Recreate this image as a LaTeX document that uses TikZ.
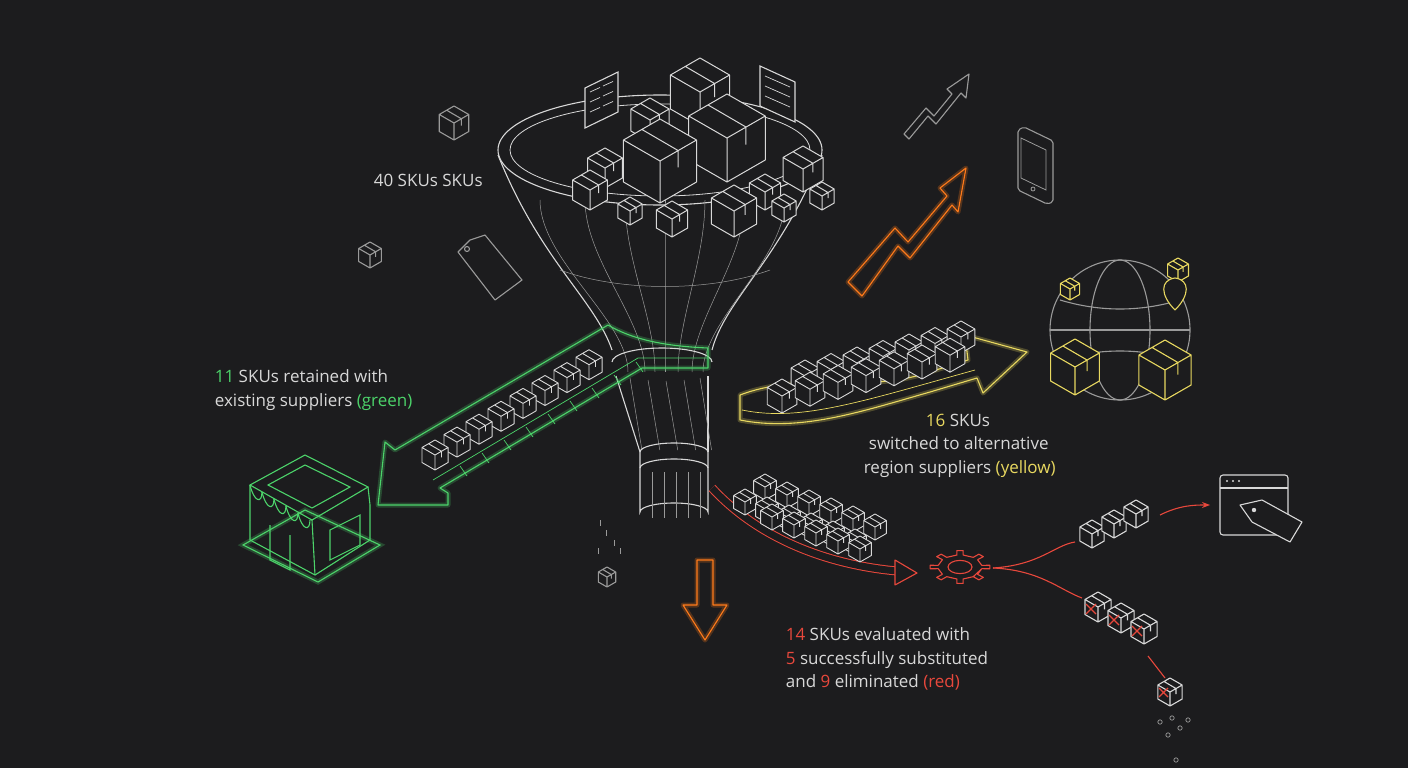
\documentclass[tikz,border=0pt]{standalone}
\usepackage{fontspec}
\setmainfont{Open Sans}
\usetikzlibrary{calc,arrows.meta}
\definecolor{bg}{HTML}{1C1C1E}
\definecolor{ln}{HTML}{D8D8D8}
\definecolor{dim}{HTML}{9A9A9A}
\definecolor{gr}{HTML}{4CD36A}
\definecolor{yl}{HTML}{E8D860}
\definecolor{rd}{HTML}{E8483C}
\definecolor{og}{HTML}{FF7A1A}
\tikzset{
 pics/cube/.style={code={
  \fill[bg] (0,0)--(-0.87*#1,-0.5*#1)--(-0.87*#1,-1.5*#1)--(0,-2*#1)--(0.87*#1,-1.5*#1)--(0.87*#1,-0.5*#1)--cycle;
  \draw[pic actions,line join=round] (0,0)--(-0.87*#1,-0.5*#1)--(-0.87*#1,-1.5*#1)--(0,-2*#1)--(0.87*#1,-1.5*#1)--(0.87*#1,-0.5*#1)--cycle
   (0,0)--(0,-#1) (-0.87*#1,-1.5*#1)--(0,-#1)--(0.87*#1,-1.5*#1)
   (-0.43*#1,-1.75*#1)--(0.43*#1,-1.25*#1)--(0.43*#1,-0.85*#1);
 }},
 lab/.style={font=\fontsize{17}{23.5}\selectfont,text=ln,align=left},
 glow/.style={line width=5pt,opacity=0.25},
}
\begin{document}
\begin{tikzpicture}[x=1pt,y=-1pt,line width=1.1pt]
\fill[bg] (0,0) rectangle (1408,768);
\useasboundingbox (0,0) rectangle (1408,768);

% ---------- funnel ----------
\coordinate (ftop) at (660,150);
\draw[ln] (ftop) ellipse [x radius=162,y radius=55];
\draw[ln,line width=0.8pt] (ftop) ellipse [x radius=150,y radius=46];
\draw[ln] (498,155) .. controls (540,260) and (595,300) .. (612,350);
\draw[ln] (822,155) .. controls (780,260) and (725,300) .. (712,350);
\foreach \a/\b in {540/628,585/645,625/655,665/665,705/678,745/692,785/703}{
 \draw[dim,line width=0.5pt] (\a,200) .. controls (\a,260) and (\b,320) .. (\b,372);}
\draw[dim,line width=0.5pt] (560,270) .. controls (620,292) and (710,292) .. (770,270);
\draw[ln] (612,362) arc[start angle=180,end angle=360,x radius=50,y radius=14];
\draw[ln] (616,376) -- (640,452);
\draw[ln] (708,376) -- (708,452);
\foreach \x/\y in {630/378,648/380,666/381,684/380,700/378}{
 \draw[dim,line width=0.5pt] (\x,\y) -- ({\x+(\x-612)*0.12+12*(1-(\x-612)/96)},450);}
\draw[ln] (640,452) arc[start angle=180,end angle=360,x radius=34,y radius=9];
\draw[ln] (640,452) -- (640,512) arc[start angle=180,end angle=360,x radius=34,y radius=9] -- (708,452);
\draw[ln] (640,468) arc[start angle=180,end angle=360,x radius=34,y radius=9];
\foreach \x in {652,664,676,688,700}{\draw[dim,line width=0.5pt] (\x,472) -- (\x,518);}

% clipboards
\draw[ln,fill=bg] (585,88) -- (618,72) -- (618,112) -- (585,128) -- cycle;
\foreach \y in {92,102,112}{\draw[ln,line width=0.7pt] (590,\y)--(600,\y-4.5) (603,\y-6)--(613,\y-10.5);}
\draw[ln,fill=bg] (760,66) -- (795,82) -- (795,122) -- (760,106) -- cycle;
\foreach \y in {76,86,96}{\draw[ln,line width=0.7pt] (765,\y)--(790,\y+11);}
% boxes in funnel top
\foreach \x/\y/\s in {650/142/22,700/126/34,605/188/20,727/182/44,803/192/23,660/203/42,590/210/20,765/210/18,822/210/14,784/222/14,630/225/14,672/237/18,734/237/26}{
 \pic[ln,line width=1pt] at (\x,\y) {cube=\s};}

% ---------- green ----------
\coordinate (gt) at (378,505);
\foreach \st in {glow,{}}{
\draw[gr,\st,line join=round] (708,348) .. controls (660,346) and (630,338) .. (608,325) -- (395,450) -- (385,442) -- (gt) -- (448,505) -- (448,493) -- (440,488) -- (642,368) -- (708,368) -- cycle;}
\draw[gr,line width=0.7pt] (433,480) -- (638,358) -- (708,358);
\foreach \i in {0,...,8}{\draw[gr,line width=0.7pt] ({460+\i*22},{466-\i*13}) -- ({467+\i*22},{476-\i*13});}
\foreach \i in {0,...,7}{
 \pic[ln,line width=0.9pt] at ({435+(7-\i)*22},{470-(7-\i)*12.9}) {cube=15};}
% green store
\begin{scope}[gr]
\draw[gr,glow] (243,545)--(305,510)--(380,545)--(318,582)--cycle;
\draw (243,545)--(305,510)--(380,545)--(318,582)--cycle;
\draw (250,520)--(250,540)--(315,575)--(370,540)--(370,505);
\draw (250,485)--(305,455)--(368,487)--(312,520)--cycle;
\draw (268,485)--(305,465)--(350,487)--(312,508)--cycle;
\draw (250,485)--(250,520) (312,520)--(315,575) (368,487)--(370,505);
\foreach \i in {0,...,4}{\draw ({250+\i*12},{485+\i*7}) .. controls ({254+\i*12},{502+\i*7}) and ({262+\i*12},{504+\i*7}) .. ({262+\i*12},{492+\i*7});}
\draw (270,525)--(270,560)--(290,570)--(290,535);
\draw (330,530)--(360,515)--(360,545)--(330,560)--cycle;
\end{scope}

% ---------- yellow ----------
\coordinate (yt) at (1027,352);
\foreach \st in {glow,{}}{
\draw[yl,\st,line join=round] (740,395) .. controls (800,372) and (860,392) .. (920,375) -- (968,360) -- (965,335) -- (yt) -- (983,393) -- (977,378) -- (930,392) .. controls (860,412) and (800,432) .. (740,420) -- cycle;}
\draw[yl,line width=0.7pt] (742,410) .. controls (800,422) and (860,402) .. (975,370);
\foreach \i in {0,...,6}{
 \pic[ln,line width=0.9pt] at ({805+\i*26},{392-\i*6.5}) {cube=16};}
\foreach \i in {0,...,6}{
 \pic[ln,line width=0.9pt] at ({782+\i*28},{413-\i*6.8}) {cube=17};}
% globe
\draw[dim] (1120,330) circle (70);
\draw[dim] (1120,330) ellipse [x radius=30,y radius=70];
\draw[dim] (1050,330) -- (1190,330);
\draw[dim] (1060,300) .. controls (1100,312) and (1140,312) .. (1180,300);
\draw[dim] (1060,360) .. controls (1100,348) and (1140,348) .. (1180,360);
\foreach \x/\y/\s in {1075/395/28,1165/400/30}{
 \pic[yl] at (\x,\y) {cube=\s};}
\pic[yl] at (1070,300) {cube=11};
\pic[yl] at (1178,282) {cube=12};
\draw[yl,fill=bg] (1175,310) .. controls (1160,295) and (1160,280) .. (1175,278) .. controls (1190,280) and (1190,295) .. (1175,310);

% ---------- red ----------
\coordinate (rs) at (712,488);
\coordinate (rt) at (917,573);
\draw[rd,double=bg,double distance=7pt,line width=1pt] (rs) .. controls (760,540) and (830,565) .. (897,571);
\draw[rd,fill=bg,line join=round] (895,560) -- (rt) -- (895,585) -- cycle;
\foreach \i in {0,...,5}{
 \pic[ln,line width=0.9pt] at ({765+\i*22},{500+\i*8}) {cube=13};}
\foreach \i in {0,...,5}{
 \pic[ln,line width=0.9pt] at ({745+\i*22},{515+\i*8}) {cube=13};}
\foreach \i in {0,...,4}{
 \pic[ln,line width=0.9pt] at ({772+\i*22},{530+\i*8}) {cube=13};}
% gear
\begin{scope}[shift={(960,567)},y=0.55pt,x=1pt]
\draw[rd,fill=bg,line join=round] \foreach \k in {0,...,7}{({\k*45-8}:22) -- ({\k*45-6}:30) -- ({\k*45+6}:30) -- ({\k*45+8}:22) -- ({\k*45+37}:22)} -- cycle;
\draw[rd] (0,0) ellipse [x radius=12,y radius=12];
\end{scope}
\coordinate (gr1) at (993,568);
\draw[rd] (gr1) .. controls (1040,565) and (1055,545) .. (1075,542);
\draw[rd] (gr1) .. controls (1040,570) and (1060,590) .. (1082,598);
\foreach \i in {0,...,2}{\pic[ln] at ({1092+\i*22},{548-\i*10}) {cube=14};}
\draw[rd,-{Stealth[length=8pt]}] (1160,515) .. controls (1180,505) and (1195,505) .. (1210,505);
\draw[ln,rounded corners=3pt] (1220,475) rectangle (1288,535);
\draw[ln] (1220,488)--(1288,488);
\foreach \x in {1227,1233,1239}{\fill[ln] (\x,481) circle (1.2);}
\draw[ln,fill=bg,line join=round] (1240,505) -- (1262,500) -- (1302,522) -- (1290,542) -- (1252,522) -- cycle;
\fill[ln] (1254,510) circle (2.2);
\foreach \i in {0,...,2}{
 \pic[ln] at ({1098+\i*23},{622+\i*11}) {cube=15};
 \draw[rd] ({1086+\i*23},{604+\i*11}) -- ({1096+\i*23},{614+\i*11}) ({1096+\i*23},{604+\i*11}) -- ({1086+\i*23},{614+\i*11});}
\draw[rd] (1148,656) -- (1165,678);
\pic[ln] at (1170,706) {cube=14};
\draw[rd] (1159,688) -- (1168,697) (1168,688) -- (1159,697);
\foreach \x/\y in {1160/722,1172/718,1180/728,1168/735,1188/720,1176/760}{\draw[dim,line width=0.7pt] (\x,\y) circle (2.2);}

% ---------- orange ----------
\coordinate (ot) at (966,168);
\foreach \st in {glow,{}}{
\draw[og,\st,line join=round] (848,282) -- (895,228) -- (908,242) -- (947,196) -- (940,188) -- (ot) -- (958,212) -- (952,205) -- (910,258) -- (898,246) -- (862,296) -- cycle;}
\foreach \st in {glow,{}}{
\draw[og,\st,line join=round] (697,560) -- (713,560) -- (713,605) -- (727,605) -- (705,640) -- (683,605) -- (697,605) -- cycle;}

% ---------- gray icons ----------
\pic[dim] at (454,140) {cube=17};
\pic[dim] at (370,268) {cube=13};
\pic[dim] at (607,587) {cube=10};
\foreach \x/\y in {600/520,606/530,614/540,620/548,598/548}{\draw[dim,line width=0.6pt] (\x,\y) -- (\x,\y+6);}
\draw[dim,line join=round] (470,240) -- (458,252) -- (495,300) -- (522,280) -- (485,235) -- cycle;
\draw[dim] (467,249) circle (2.5);
% trend arrow
\draw[dim,line join=round] (904,134) -- (926,108) -- (934,116) -- (952,94) -- (947,89) -- (969,74) -- (966,98) -- (961,93) -- (936,124) -- (928,116) -- (909,139) -- cycle;
% phone
\draw[dim,line join=round,rounded corners=2pt] (1018,130) -- (1024,127) -- (1053,141) -- (1053,202) -- (1047,204) -- (1018,190) -- cycle;
\draw[dim,line width=0.8pt] (1021,138) -- (1046,150) -- (1046,190) -- (1021,178) -- cycle;
\draw[dim,line width=0.8pt] (1033,189) circle (2);

% ---------- text ----------
\node[lab,anchor=west] (t40) at (370,180) {40 SKUs SKUs};
\node[lab,anchor=north west] (tg) at (211,366) {\textcolor{gr}{11} SKUs retained with\\existing suppliers \textcolor{gr}{(green)}};
\node[lab,anchor=north west] (ty) at (860,410) {\hspace*{62pt}\textcolor{yl}{16} SKUs\\\hspace*{5pt}switched to alternative\\region suppliers \textcolor{yl}{(yellow)}};
\node[lab,anchor=north west] (tr) at (782,624) {\textcolor{rd}{14} SKUs evaluated with\\\textcolor{rd}{5} successfully substituted\\and \textcolor{rd}{9} eliminated \textcolor{rd}{(red)}};
\end{tikzpicture}
\end{document}
